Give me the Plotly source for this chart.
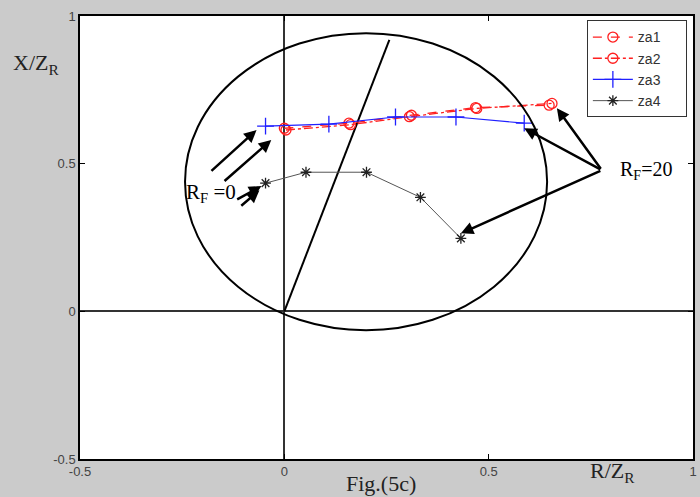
import plotly.graph_objects as go

# --- data ---------------------------------------------------------------------
za1_x = [0.0, 0.158, 0.311, 0.468, 0.648]
za1_y = [0.620, 0.637, 0.664, 0.690, 0.698]

za2_x = [0.004, 0.162, 0.306, 0.471, 0.655]
za2_y = [0.614, 0.632, 0.659, 0.687, 0.704]

za3_x = [-0.046, 0.109, 0.272, 0.420, 0.587]
za3_y = [0.627, 0.634, 0.658, 0.658, 0.637]

za4_x = [-0.046, 0.053, 0.201, 0.333, 0.432]
za4_y = [0.434, 0.471, 0.471, 0.386, 0.247]

circle_x = [-0.243, 0.643]
circle_y = [-0.064, 0.942]

chord_x = [0.0, 0.257]
chord_y = [0.0, 0.919]

# arrows: (tail_x, tail_y, head_x, head_y)
rf0_arrows = [(-0.182, 0.471, -0.068, 0.614),
              (-0.150, 0.437, -0.032, 0.580),
              (-0.119, 0.376, -0.056, 0.424),
              (-0.109, 0.353, -0.061, 0.410)]
rf20_arrows = [(0.777, 0.478, 0.667, 0.688),
               (0.777, 0.478, 0.587, 0.620),
               (0.777, 0.478, 0.432, 0.264)]

ticks = [-0.5, 0, 0.5, 1]
tick_text = ["-0.5", "0", "0.5", "1"]

SERIF = "Liberation Serif, Times New Roman, serif"
SANS = "Liberation Sans, Arial, sans-serif"
PAD = "\u00a0" * 5  # widen legend box a little

fig = go.Figure()

fig.add_trace(go.Scatter(
    x=chord_x, y=chord_y, mode="lines", showlegend=False,
    line=dict(color="black", width=2), hoverinfo="skip",
))

fig.add_trace(go.Scatter(
    x=za1_x, y=za1_y, mode="lines+markers", name="za1" + PAD,
    line=dict(color="#ff2020", width=1.3, dash="dash"),
    marker=dict(symbol="circle-open", size=10, color="#ff2020", line=dict(width=1.3)),
))
fig.add_trace(go.Scatter(
    x=za2_x, y=za2_y, mode="lines+markers", name="za2" + PAD,
    line=dict(color="#ff2020", width=1.3, dash="dashdot"),
    marker=dict(symbol="circle-open", size=10, color="#ff2020", line=dict(width=1.3)),
))
fig.add_trace(go.Scatter(
    x=za3_x, y=za3_y, mode="lines+markers", name="za3" + PAD,
    line=dict(color="#2020ff", width=1.2),
    marker=dict(symbol="cross-thin-open", size=12, color="#2020ff", line=dict(width=1.3, color="#2020ff")),
))
fig.add_trace(go.Scatter(
    x=za4_x, y=za4_y, mode="lines+markers", name="za4" + PAD,
    line=dict(color="#555555", width=1),
    marker=dict(symbol="asterisk-open", size=9, color="#222", line=dict(width=1.3, color="#222")),
))

fig.add_shape(type="circle", xref="x", yref="y",
              x0=circle_x[0], x1=circle_x[1], y0=circle_y[0], y1=circle_y[1],
              line=dict(color="black", width=2))

annotations = []
for tx, ty, hx, hy in rf0_arrows + rf20_arrows:
    annotations.append(dict(
        x=hx, y=hy, ax=tx, ay=ty, xref="x", yref="y", axref="x", ayref="y",
        text="", showarrow=True, arrowhead=2, arrowsize=1, arrowwidth=2.5,
        arrowcolor="black",
    ))

annotations += [
    dict(x=-0.18, y=0.40, xref="x", yref="y", showarrow=False,
         text="R<sub>F</sub> =0", font=dict(family=SERIF, size=21, color="black")),
    dict(x=0.885, y=0.478, xref="x", yref="y", showarrow=False,
         text="R<sub>F</sub>=20", font=dict(family=SERIF, size=20, color="black")),
    dict(x=-0.112, y=0.928, xref="paper", yref="paper", showarrow=False,
         text="X/Z<sub>R</sub>", font=dict(family=SERIF, size=22, color="#222")),
    dict(x=0.908, y=-0.03, xref="paper", yref="paper", yanchor="middle", showarrow=False,
         text="R/Z<sub>R</sub>", font=dict(family=SERIF, size=22, color="#222")),
    dict(x=0.491, y=-0.056, xref="paper", yref="paper", yanchor="middle", showarrow=False,
         text="Fig.(5c)", font=dict(family=SERIF, size=22, color="#222")),
]

axis_common = dict(
    tickvals=ticks, ticktext=tick_text, ticks="inside", ticklen=5, tickcolor="black",
    showline=True, linecolor="black", linewidth=1.5, mirror="ticks",
    showgrid=False, zeroline=True, zerolinecolor="#333", zerolinewidth=1.5,
    tickfont=dict(family=SANS, size=13, color="#444"),
)

fig.update_layout(
    width=700, height=497,
    margin=dict(l=80, r=3, t=16, b=38),
    paper_bgcolor="#cbcbcb", plot_bgcolor="white",
    xaxis=dict(range=[-0.5, 1], **axis_common),
    yaxis=dict(range=[-0.5, 1], **axis_common),
    legend=dict(
        x=0.99, y=0.99, xanchor="right", yanchor="top",
        bgcolor="white", bordercolor="#333", borderwidth=1,
        font=dict(family=SANS, size=14, color="#333"),
        tracegroupgap=0, itemwidth=40,
    ),
    annotations=annotations,
)

fig.write_html("out.html", config={"displayModeBar": False},
               post_script="document.body.style.margin='0';")
